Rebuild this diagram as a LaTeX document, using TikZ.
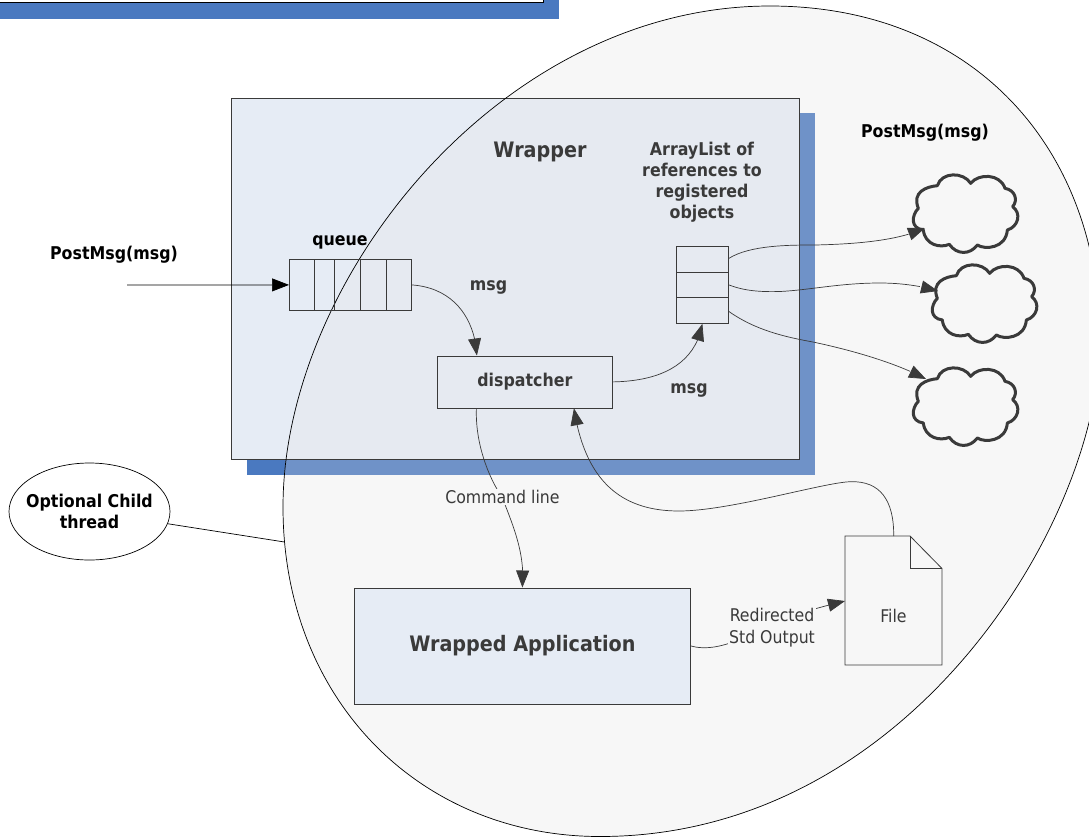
\documentclass[tikz,border=0pt]{standalone}
\usepackage{fontspec}
\setmainfont{DejaVu Sans Condensed}
\usetikzlibrary{arrows.meta,bending,shapes.geometric}
\definecolor{boxA}{HTML}{E6ECF5}
\definecolor{boxB}{HTML}{E6EAF1}
\definecolor{shadowA}{HTML}{4A79C0}
\definecolor{shadowB}{HTML}{6F92C8}
\definecolor{blobfill}{HTML}{F7F7F7}
\definecolor{ink}{HTML}{3A3A3A}
\newcommand{\blobcurve}{(770,6) .. controls (975,6) and (1100,150) .. (1100,340) .. controls (1100,520) and (910,836.5) .. (600,836.5) .. controls (420,836.5) and (283,700) .. (283,507) .. controls (283,280) and (500,6) .. (770,6) -- cycle}
\tikzset{
  pxbox/.style={draw=ink,line width=0.8pt,inner sep=0pt,anchor=north west},
  lbl/.style={font=\fontsize{#1}{21}\selectfont\bfseries,text=ink,inner sep=0pt,align=center},
  lblk/.style={font=\fontsize{#1}{21}\selectfont\bfseries,text=black,inner sep=0pt,align=center},
  conn/.style={draw=ink,line width=0.7pt,-{Triangle[length=17pt,width=13pt,flex]}},
  plain/.style={font=\fontsize{17.5}{22}\selectfont,text=ink,align=center,inner sep=1pt},
  cloudline/.style={draw=ink,line width=3pt,fill=blobfill,line join=round},
  pics/cloudshape/.style={code={
    \begin{scope}[scale=1/3]
    \path[cloudline] (112,62) .. controls (125,20) and (190,20) .. (212,55)
      .. controls (235,25) and (300,25) .. (315,70)
      .. controls (345,75) and (355,105) .. (338,125)
      .. controls (365,145) and (355,185) .. (322,195)
      .. controls (318,250) and (255,255) .. (232,240)
      .. controls (210,270) and (170,270) .. (148,238)
      .. controls (120,250) and (75,240) .. (70,195)
      .. controls (30,190) and (35,150) .. (55,130)
      .. controls (35,80) and (80,65) .. (112,62) -- cycle;
    \end{scope}
  }}
}
\begin{document}
\begin{tikzpicture}[x=1pt,y=-1pt]
\useasboundingbox (0,0) rectangle (1089,836);
\clip (0,0) rectangle (1089,836);
\fill[white] (0,0) rectangle (1089,836);
% top-left cut-off box
\fill[shadowA] (0,0) rectangle (559,19);
\fill[white,draw=black,line width=0.8pt] (-5,-5) rectangle (543,2.5);
% wrapper, with the drop shadow, under the translucent blob
\fill[shadowA] (247,113) rectangle (815,475);
\node[pxbox,fill=boxA,draw=none,minimum width=568pt,minimum height=361pt] (wrapper) at (231,98) {};
\begin{scope}
  \clip \blobcurve;
  \fill[blobfill] (0,0) rectangle (1200,900);
  \fill[shadowB] (247,113) rectangle (815,475);
  \fill[boxB] (wrapper.south west) rectangle (wrapper.north east);
\end{scope}
\draw[ink,line width=0.9pt] (wrapper.south west) rectangle (wrapper.north east);
\draw[black,line width=0.7pt] \blobcurve;
% queue
\node[pxbox,minimum width=45pt,minimum height=51pt] (q1) at (289,259) {};
\node[pxbox,minimum width=77pt,minimum height=51pt] (q2) at (334,259) {};
\draw[ink,line width=0.8pt] (314.5,259) -- (314.5,310);
\draw[ink,line width=0.8pt] (360,259) -- (360,310);
\draw[ink,line width=0.8pt] (386,259) -- (386,310);
% array
\node[pxbox,minimum width=52pt,minimum height=77pt] (arr) at (676,246) {};
\draw[ink,line width=0.8pt] (676,272) -- (728,272);
\draw[ink,line width=0.8pt] (676,297) -- (728,297);
% boxes
\node[pxbox,minimum width=175pt,minimum height=52pt,lbl=17.6] (disp) at (437,355.5) {\raisebox{-1pt}{dispatcher}};
\node[pxbox,fill=boxA,minimum width=336pt,minimum height=116pt,lbl=21.3] (app) at (354,587.5) {\raisebox{-1pt}{Wrapped Application}};
% file
\path[draw=ink,line width=0.8pt,fill=blobfill] (845,536) -- (910,536) -- (942,568.5) -- (942,665) -- (845,665) -- cycle;
\draw[ink,line width=0.8pt] (910,536) -- (910,568.5) -- (942,568.5);
\node[plain] (file) at (893.5,616) {File};
\coordinate (filetop) at (893.7,536);
\coordinate (fileleft) at (845,601);
% ellipse
\node[draw=black,line width=0.7pt,ellipse,minimum width=161pt,minimum height=97pt,inner sep=-14pt,lblk=17.6,inner sep=-14pt] (opt) at (89.5,511.5) {Optional Child\\thread};
\coordinate (blobleft) at (284.5,542);
\draw[black,line width=0.7pt] (opt) -- (blobleft);
% clouds
\pic at (900,165) {cloudshape};
\pic at (919,255) {cloudshape};
\pic at (900,358) {cloudshape};
\coordinate (c1) at (925,228);
\coordinate (c2) at (938,291);
\coordinate (c3) at (926,379);
% connectors
\coordinate (postin) at (127,285);
\draw[draw=black,line width=0.7pt,-{Triangle[length=17pt,width=13pt]}] (postin) -- (q1.west);
\draw[conn] (q2.east) .. controls (455,288) and (475,320) .. ([xshift=-48pt]disp.north);
\draw[conn] (disp.east) .. controls (660,381) and (695,365) .. (arr.south);
\draw[conn] ([yshift=26.5pt]arr.east) .. controls (750,245) and (790,245) .. (815,245) .. controls (860,244) and (900,240) .. (c1);
\draw[conn] (arr.east) .. controls (745,291) and (760,292) .. (780,291.5) .. controls (810,290) and (840,283) .. (880,283) .. controls (905,283) and (925,287) .. (c2);
\draw[conn] ([yshift=-26.5pt]arr.east) .. controls (755,330) and (785,337) .. (813,342) .. controls (860,352) and (900,365) .. (c3);
\draw[conn] ([xshift=-48.5pt]disp.south) .. controls (475,445) and (490,480) .. (502,497) .. controls (515,530) and (525,555) .. (app.north);
\draw[conn] (filetop) .. controls (894,500) and (880,481) .. (851,481.7) .. controls (825,482) and (730,511) .. (679,511) .. controls (620,511) and (585,480) .. ([xshift=49pt]disp.south);
\draw[conn] (app.east) .. controls (705,650) and (725,648) .. (755,632) .. controls (785,618) and (800,612) .. (fileleft);
% labels
\node[lblk=17.6] (post1) at (114,255) {PostMsg(msg)};
\node[lblk=17.6] (post2) at (925,133) {PostMsg(msg)};
\node[lblk=17.6] (qlab) at (340,242) {queue};
\node[lbl=21.3] (wlab) at (540,152) {Wrapper};
\node[lbl=17.6] (m1) at (488.5,287) {msg};
\node[lbl=17.6] (m2) at (689,390) {msg};
\node[lbl=17.6] (alab) at (702,182.5) {ArrayList of\\references to\\registered\\objects};
\node[plain,fill=blobfill] (cmd) at (502.5,497) {Command line};
\node[plain,fill=blobfill] (redir) at (772,628) {Redirected\\Std Output};
\end{tikzpicture}
\end{document}
